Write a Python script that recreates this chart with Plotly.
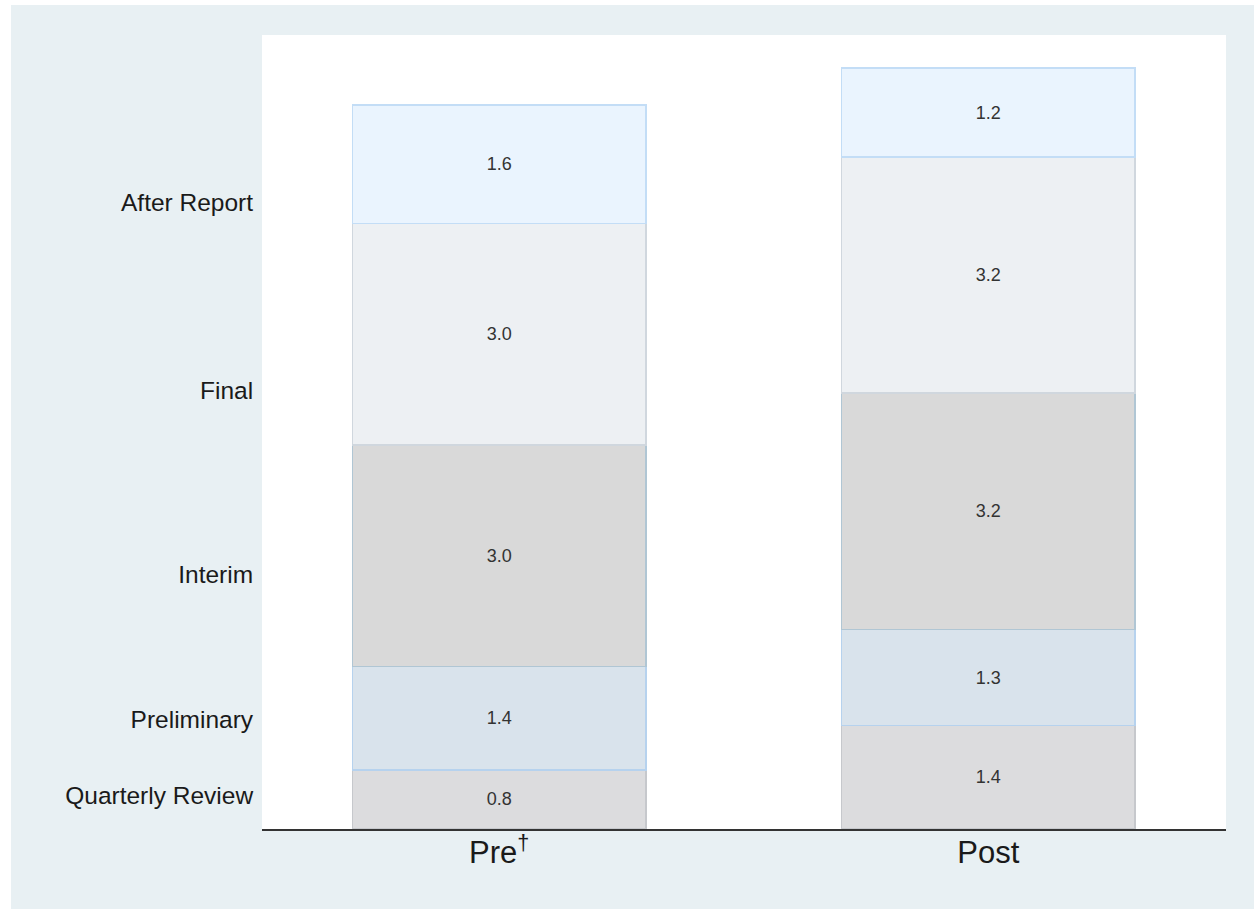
import plotly.graph_objects as go

# Categories and stacked segment values (bottom to top)
periods = ["Pre<sup>†</sup>", "Post"]
stages = ["Quarterly Review", "Preliminary", "Interim", "Final", "After Report"]
values = {
    "Quarterly Review": [0.8, 1.4],
    "Preliminary": [1.4, 1.3],
    "Interim": [3.0, 3.2],
    "Final": [3.0, 3.2],
    "After Report": [1.6, 1.2],
}
# Positions of the stage labels on the value axis
stage_tick_vals = [0.46, 1.48, 3.44, 5.94, 8.48]

fills = {
    "Quarterly Review": "#dcdcde",
    "Preliminary": "#d9e3ec",
    "Interim": "#d9d9d9",
    "Final": "#edf0f3",
    "After Report": "#eaf4fe",
}
borders = {
    "Quarterly Review": "#c6c8cc",
    "Preliminary": "#b6d2ee",
    "Interim": "#b0c6d4",
    "Final": "#d0d7de",
    "After Report": "#c3ddf6",
}

FONT = "Arial, Liberation Sans, Helvetica, sans-serif"

fig = go.Figure()
for s in stages:
    fig.add_trace(go.Bar(
        x=periods,
        y=values[s],
        name=s,
        width=0.6,
        marker=dict(color=fills[s], line=dict(color=borders[s], width=1.5)),
        text=[f"{v:.1f}" for v in values[s]],
        textposition="inside",
        insidetextanchor="middle",
        textangle=0,
        textfont=dict(family=FONT, size=18, color="#333333"),
        hoverinfo="name+y",
    ))

W, H = 1254, 909
fig.update_layout(
    width=W, height=H,
    barmode="stack",
    showlegend=False,
    paper_bgcolor="#e8f0f3",
    plot_bgcolor="#ffffff",
    margin=dict(l=262, r=28, t=35, b=80),
    font=dict(family=FONT, color="#222222"),
    xaxis=dict(
        range=[-0.485, 1.486],
        showline=True, linecolor="#333333", linewidth=1.5,
        showgrid=False, zeroline=False,
        ticks="", ticklabelstandoff=-5,
        tickfont=dict(size=31, color="#1a1a1a"),
    ),
    yaxis=dict(
        range=[0, 10.75],
        tickmode="array",
        tickvals=stage_tick_vals,
        ticktext=stages,
        showgrid=False, zeroline=False, showline=False,
        ticks="outside", ticklen=3, tickcolor="rgba(0,0,0,0)",
        tickfont=dict(size=24.5, color="#1a1a1a"),
    ),
    shapes=[
        # white strips along the left and top page edges
        dict(type="rect", xref="paper", yref="paper",
             x0=-262 / 964, x1=-251 / 964, y0=-80 / 794, y1=(794 + 35) / 794,
             fillcolor="#ffffff", line=dict(width=0), layer="below"),
        dict(type="rect", xref="paper", yref="paper",
             x0=-262 / 964, x1=(964 + 28) / 964, y0=(794 + 30) / 794, y1=(794 + 35) / 794,
             fillcolor="#ffffff", line=dict(width=0), layer="below"),
    ],
)

fig.write_html("out.html")
